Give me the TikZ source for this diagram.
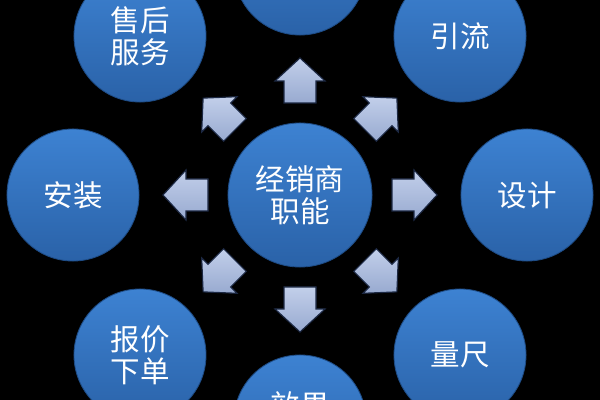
\documentclass[tikz,border=0pt]{standalone}
\usepackage{fontspec}
\newfontfamily\cjk{Noto Sans CJK SC}
\begin{document}
\begin{tikzpicture}[x=0.025cm,y=-0.025cm,
  ball/.style={circle,inner sep=0pt,minimum size=3.3cm,top color=bluetop,bottom color=bluebot,
    draw=blueedge,line width=0.6pt,text=white,align=center,
    font=\cjk\fontsize{21}{23}\selectfont},
  hub/.style={ball,minimum size=3.6cm},
  blockarrow/.style={top color=arrtop,bottom color=arrbot,draw=arredge,line width=0.8pt,line join=miter}]
\definecolor{bluetop}{HTML}{3D82D2}
\definecolor{bluebot}{HTML}{2A62A8}
\definecolor{blueedge}{HTML}{1E4C86}
\definecolor{arrtop}{HTML}{C2CFEA}
\definecolor{arrbot}{HTML}{98AAD0}
\definecolor{arredge}{HTML}{1C2843}
\fill[black] (0,0) rectangle (600,400);
\useasboundingbox (0,0) rectangle (600,400);
\clip (0,0) rectangle (600,400);
\node[hub] (c) at (300,195) {经销商\\职能};
\node[ball] (n) at (300,-31) {};
\node[ball] (ne) at (460,36) {引流};
\node[ball] (e) at (527,195) {设计};
\node[ball] (se) at (460,355) {量尺};
\node[ball] (s) at (300,421) {效果\\\phantom{效果}};
\node[ball] (sw) at (140,355) {报价\\下单};
\node[ball] (w) at (73,195) {安装};
\node[ball] (nw) at (140,36) {售后\\服务};
\foreach \a in {0,45,90,135,180,225,270,315}{
  \begin{scope}[shift={(c.center)},rotate=\a]
    \path[blockarrow] (92,-16) -- (114,-16) -- (114,-25) -- (137,0) -- (114,25) -- (114,16) -- (92,16) -- cycle;
  \end{scope}
}
\end{tikzpicture}
\end{document}
